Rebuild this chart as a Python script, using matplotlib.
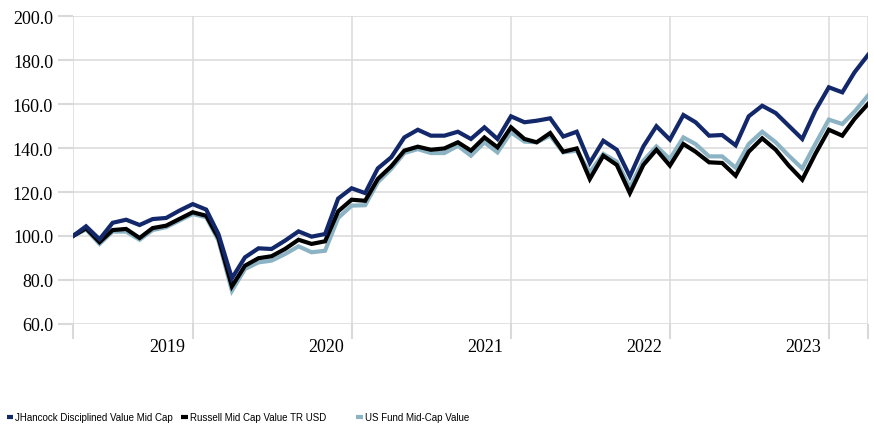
import matplotlib
matplotlib.use("Agg")
import matplotlib.pyplot as plt
import matplotlib.dates as mdates
from matplotlib.lines import Line2D
from matplotlib import font_manager
import pandas as pd
import datetime as dt

# ---- data ----
dates = pd.date_range("2018-03-31", periods=61, freq="ME")

jhancock = [100.0, 104.4, 98.5, 106.0, 107.4, 105.0, 107.7, 108.2, 111.5, 114.5,
            112.0, 100.9, 80.8, 90.3, 94.4, 94.1, 97.9, 102.1, 99.7, 100.9,
            117.0, 121.7, 119.5, 130.7, 135.8, 144.8, 148.3, 145.6, 145.6, 147.4,
            144.1, 149.4, 144.1, 154.4, 151.7, 152.4, 153.5, 145.2, 147.4, 133.2,
            143.3, 139.2, 127.1, 140.7, 149.9, 143.8, 155.0, 151.7, 145.6, 145.9,
            141.2, 154.4, 159.2, 155.9, 150.1, 144.1, 157.0, 167.6, 165.3, 174.4,
            182.3]

russell = [100.0, 103.5, 97.2, 102.7, 103.2, 99.1, 103.6, 104.7, 107.7, 110.8,
           109.2, 99.1, 77.1, 86.5, 89.9, 90.8, 94.1, 98.3, 96.4, 97.6,
           111.2, 116.5, 116.0, 125.9, 131.7, 138.8, 140.6, 139.2, 139.8, 142.6,
           138.8, 144.8, 140.3, 149.4, 144.1, 142.6, 146.8, 138.3, 139.8, 125.9,
           136.5, 132.3, 119.5, 132.3, 139.2, 132.0, 141.8, 138.3, 133.5, 133.2,
           127.4, 138.3, 144.4, 139.2, 132.0, 125.6, 137.3, 148.3, 145.6, 153.2,
           160.0]

usfund = [100.0, 103.0, 96.4, 102.0, 102.0, 98.3, 102.7, 104.0, 107.0, 110.0,
          108.5, 98.0, 75.1, 85.0, 88.0, 88.8, 91.8, 95.3, 92.6, 93.3,
          108.2, 113.8, 114.0, 124.4, 130.5, 137.7, 139.5, 137.7, 137.7, 141.0,
          136.5, 142.6, 138.0, 147.1, 142.9, 142.6, 145.6, 138.0, 138.8, 128.9,
          137.3, 133.8, 122.1, 134.2, 140.7, 135.0, 144.8, 141.8, 136.2, 136.2,
          131.0, 141.8, 147.4, 142.6, 136.5, 130.7, 141.8, 152.9, 150.9, 156.5,
          163.8]

series_names = ["JHancock Disciplined Value Mid Cap",
                "Russell Mid Cap Value TR USD",
                "US Fund Mid-Cap Value"]
series_colors = ["#13286a", "#000000", "#8bb3c4"]
year_labels = ["2019", "2020", "2021", "2022", "2023"]
y_ticks = [60, 80, 100, 120, 140, 160, 180, 200]

# ---- fonts ----
def has_font(name):
    try:
        font_manager.findfont(font_manager.FontProperties(family=name),
                              fallback_to_default=False)
        return True
    except Exception:
        return False

serif = "Liberation Serif"
if has_font("Liberation Sans Narrow"):
    legend_font, legend_size = "Liberation Sans Narrow", 8.6
else:
    legend_font, legend_size = "Liberation Sans", 7.0

W, H = 874, 431
fig = plt.figure(figsize=(W / 100, H / 100), dpi=100)
ax = fig.add_axes([73 / W, (H - 325) / H, (868 - 73) / W, (325 - 17) / H])

grid_c = "#d9d9d9"
ax.plot(dates, usfund, color=series_colors[2], lw=3.0, solid_joinstyle="miter", zorder=3)
ax.plot(dates, russell, color=series_colors[1], lw=3.0, solid_joinstyle="miter", zorder=4)
ax.plot(dates, jhancock, color=series_colors[0], lw=3.0, solid_joinstyle="miter", zorder=5)

ax.set_xlim(dates[0], dates[-1])
ax.set_ylim(60, 200)

ax.set_yticks(y_ticks)
ax.set_yticklabels([f"{v:.1f}" for v in y_ticks], fontfamily=serif, fontsize=13)

year_ticks = [dates[0]] + [pd.Timestamp(int(y), 1, 1) for y in year_labels] + [dates[-1]]
ax.set_xticks(year_ticks)
ax.set_xticklabels([""] * len(year_ticks))

ax.tick_params(axis="both", which="major", length=15 * 0.72, width=1.5, color=grid_c)
ax.tick_params(axis="y", pad=3.5)
ax.grid(True, color=grid_c, lw=1.5 * 0.72)
ax.set_axisbelow(True)
for s in ax.spines.values():
    s.set_visible(False)

for y in year_labels:
    ax.annotate(y, xy=(pd.Timestamp(int(y), 1, 1), 0), xycoords=("data", "axes fraction"),
                xytext=(-8, -14), textcoords="offset pixels",
                ha="right", va="top", fontfamily=serif, fontsize=13)

# ---- legend (manual, figure pixel coordinates) ----
leg_y = 418
marker_x = [(7, 13), (181, 188), (356, 363)]
text_x = [15, 190, 365]
for (x0, x1), tx, name, col in zip(marker_x, text_x, series_names, series_colors):
    fig.add_artist(Line2D([x0 / W, x1 / W], [(H - leg_y) / H] * 2, color=col,
                          lw=3.0, transform=fig.transFigure, solid_capstyle="butt"))
    fig.text(tx / W, (H - leg_y) / H, name, ha="left", va="center",
             fontfamily=legend_font, fontsize=legend_size)

fig.savefig("out.png", dpi=100)
